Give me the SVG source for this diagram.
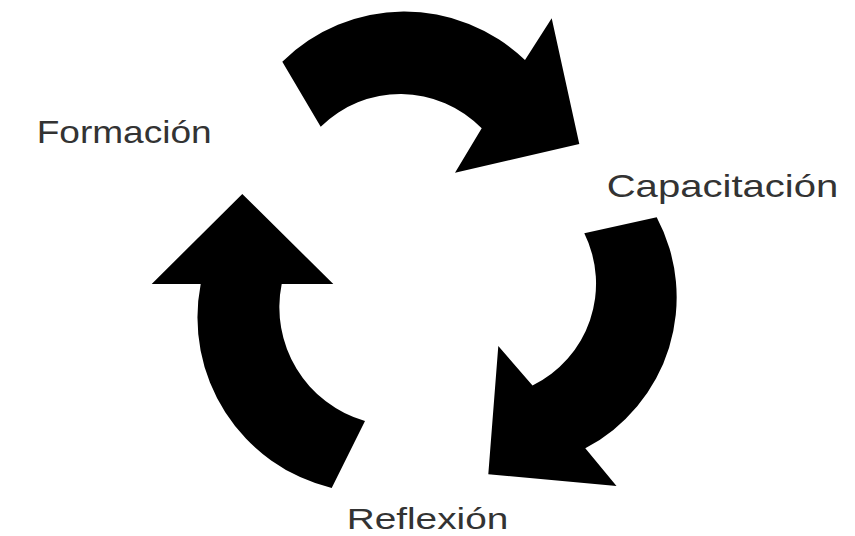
<svg xmlns="http://www.w3.org/2000/svg" width="855" height="536" viewBox="0 0 855 536">
<style>
.arrow{fill:#000000;stroke:none}
.lbl{font-family:"Liberation Sans","DejaVu Sans",sans-serif;font-size:32px;fill:#333333}
</style>
<rect width="855" height="536" fill="#ffffff"/>
<g id="connectors">
<path id="arrow-top" class="arrow" d="M 282.3,61.7 A 174,174 0 0 1 525,60 L 551.7,18.3 L 579.3,144 L 455,172.7 L 481.7,128.3 A 113.5,113.5 0 0 0 320.7,126.7 Z"/>
<path id="arrow-right" class="arrow" d="M 656.7,217.3 A 170.4,170.4 0 0 1 585.3,448.3 L 616.5,486 L 488.3,474.3 L 498.3,346 L 532.5,385.5 A 113.5,113.5 0 0 0 584.3,233.3 Z"/>
<path id="arrow-left" class="arrow" d="M 331.7,488 A 175.3,175.3 0 0 1 200.7,284 L 151.7,284 L 242.3,194 L 333.3,284 L 281.7,284 A 118.2,118.2 0 0 0 365,421 Z"/>
</g>
<g id="node-formacion">
<text class="lbl" x="36.7" y="143.3" textLength="175" lengthAdjust="spacingAndGlyphs">Formación</text>
</g>
<g id="node-capacitacion">
<text class="lbl" x="606.7" y="196.7" textLength="231.6" lengthAdjust="spacingAndGlyphs">Capacitación</text>
</g>
<g id="node-reflexion">
<text class="lbl" x="346.7" y="529" style="font-size:29px" textLength="161.6" lengthAdjust="spacingAndGlyphs">Reflexión</text>
</g>
</svg>
